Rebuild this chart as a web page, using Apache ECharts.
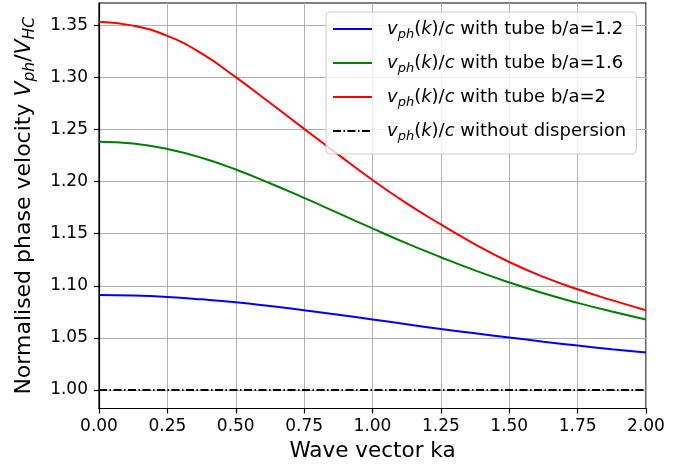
<!DOCTYPE html>
<html>
<head>
<meta charset="utf-8">
<script src="https://cdn.jsdelivr.net/npm/echarts@6/dist/echarts.min.js"></script>
<style>
html,body{margin:0;padding:0;background:#fff;}
#chart{width:693px;height:468px;}
</style>
</head>
<body>
<div id="chart"></div>
<script>
// Data
const kaValues = [0, 0.125, 0.25, 0.375, 0.5, 0.625, 0.75, 0.875, 1.0, 1.125, 1.25, 1.375, 1.5, 1.625, 1.75, 1.875, 2.0];
const tube12 = [1.0912, 1.0907, 1.0893, 1.0870, 1.0842, 1.0806, 1.0766, 1.0722, 1.0677, 1.0631, 1.0586, 1.0544, 1.0504, 1.0464, 1.0427, 1.0392, 1.0359];
const tube16 = [1.2381, 1.2364, 1.2311, 1.2228, 1.2115, 1.1983, 1.1843, 1.1697, 1.1550, 1.1407, 1.1274, 1.1148, 1.1032, 1.0928, 1.0836, 1.0753, 1.0677];
const tube20 = [1.3532, 1.3495, 1.3397, 1.3228, 1.3001, 1.2755, 1.2505, 1.2258, 1.2015, 1.1790, 1.1588, 1.1398, 1.1228, 1.1085, 1.0966, 1.0862, 1.0765];
const noDispersion = [1.0, 1.0, 1.0, 1.0, 1.0, 1.0, 1.0, 1.0, 1.0, 1.0, 1.0, 1.0, 1.0, 1.0, 1.0, 1.0, 1.0];
const yTicks = [1.00, 1.05, 1.10, 1.15, 1.20, 1.25, 1.30, 1.35];
const seriesNames = ['tube b/a=1.2', 'tube b/a=1.6', 'tube b/a=2', 'without dispersion'];

const pairs = arr => kaValues.map((x, i) => [x, arr[i]]);
const FONT = 'DejaVu Sans';

const legendRich = {
  sp: {width: 10},
  i: {fontStyle: 'italic', fontSize: 18, fontFamily: FONT, lineHeight: 24, color: '#000'},
  n: {fontSize: 18, fontFamily: FONT, lineHeight: 24, color: '#000'},
  sub: {fontStyle: 'italic', fontSize: 13, fontFamily: FONT, verticalAlign: 'bottom', color: '#000'}
};
function legendText(name) {
  const rest = name.startsWith('tube') ? ' with ' + name : ' ' + name;
  return '{sp|}{i|v}{sub|ph}{n|(}{i|k}{n|)/}{i|c}{n|' + rest + '}';
}

const chart = echarts.init(document.getElementById('chart'), null, {renderer: 'canvas'});
const colors = ['#0000ff', '#008000', '#ff0000', '#000000'];
const datasets = [tube12, tube16, tube20, noDispersion];

chart.setOption({
  animation: false,
  backgroundColor: '#ffffff',
  textStyle: {fontFamily: FONT},
  grid: {left: 99, right: 47, top: 3, bottom: 59.5, show: true, borderColor: '#000', borderWidth: 1.2},
  legend: {
    orient: 'vertical', left: 326, top: 12,
    itemWidth: 39, itemHeight: 14, itemGap: 13,
    padding: [8, 10, 11, 6],
    backgroundColor: 'rgba(255,255,255,0.8)',
    borderColor: '#cccccc', borderWidth: 1, borderRadius: 4,
    selectedMode: false,
    data: seriesNames,
    formatter: legendText,
    itemStyle: {opacity: 0},
    textStyle: {color: '#000', fontSize: 18, fontFamily: FONT, rich: legendRich}
  },
  xAxis: {
    type: 'value', min: 0, max: 2, interval: 0.25,
    name: 'Wave vector ka', nameLocation: 'middle', nameGap: 30,
    nameTextStyle: {fontSize: 21.5, color: '#000', fontFamily: FONT},
    axisLine: {show: true, lineStyle: {color: '#000', width: 1.2}},
    axisTick: {show: true, length: 5, lineStyle: {color: '#000', width: 1.2}},
    axisLabel: {fontSize: 17, color: '#000', margin: 10, formatter: v => v.toFixed(2)},
    splitLine: {show: true, lineStyle: {color: '#b0b0b0', width: 1}}
  },
  yAxis: {
    type: 'value', min: 0.9823, max: 1.3712,
    name: 'Normalised phase velocity {i|V}{sub|ph}/{i|V}{sub|HC}',
    nameLocation: 'middle', nameGap: 61,
    nameTextStyle: {
      fontSize: 22, color: '#000', fontFamily: FONT, lineHeight: 28,
      rich: {
        i: {fontStyle: 'italic', fontSize: 22, fontFamily: FONT, lineHeight: 28, color: '#000'},
        sub: {fontStyle: 'italic', fontSize: 15.5, fontFamily: FONT, verticalAlign: 'bottom', color: '#000'}
      }
    },
    axisLine: {show: true, lineStyle: {color: '#000', width: 1.2}},
    axisTick: {show: true, length: 5, customValues: yTicks, lineStyle: {color: '#000', width: 1.2}},
    axisLabel: {fontSize: 17, color: '#000', margin: 11, customValues: yTicks, formatter: v => v.toFixed(2)},
    splitLine: {show: true, lineStyle: {color: '#b0b0b0', width: 1}}
  },
  series: seriesNames.map((name, idx) => ({
    name: name,
    type: 'line',
    data: pairs(datasets[idx]),
    smooth: idx < 3 ? true : false,
    symbol: 'none',
    lineStyle: {color: colors[idx], width: 2, type: idx === 3 ? [8, 2.5, 1.5, 2.5] : 'solid'},
    itemStyle: {color: colors[idx]},
    z: 3
  }))
});
</script>
</body>
</html>
